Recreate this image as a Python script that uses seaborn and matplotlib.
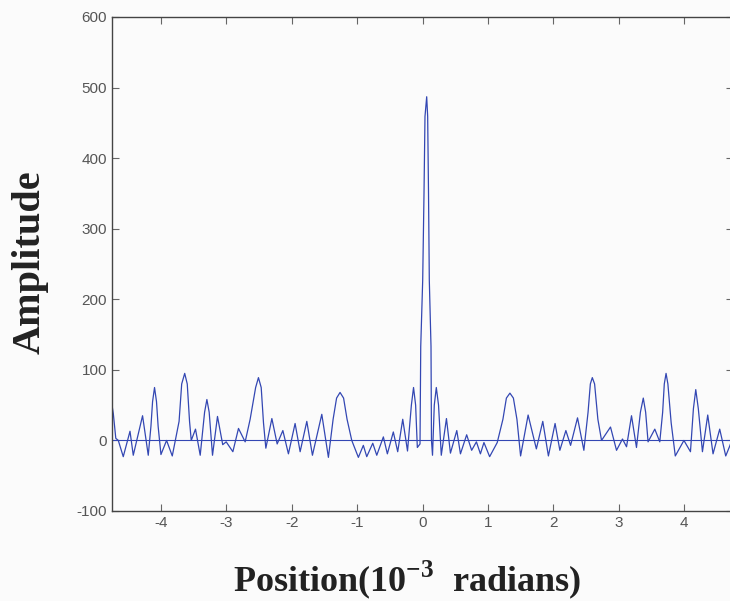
import matplotlib
matplotlib.use("Agg")
import matplotlib.pyplot as plt
import seaborn as sns

# position in 1e-3 radians, amplitude
position = [
    -4.745, -4.725, -4.687, -4.649, -4.573, -4.470, -4.420, -4.278, -4.191, -4.150,
    -4.125, -4.095, -4.065, -4.040, -3.997, -3.911, -3.824, -3.720, -3.680, -3.634,
    -3.595, -3.560, -3.534, -3.469, -3.397, -3.330, -3.295, -3.260, -3.209, -3.133,
    -3.053, -3.000, -2.898, -2.812, -2.710, -2.634, -2.550, -2.507, -2.465, -2.430,
    -2.394, -2.302, -2.221, -2.134, -2.049, -1.947, -1.870, -1.768, -1.682, -1.539,
    -1.438, -1.366, -1.313, -1.260, -1.206, -1.153, -1.081, -0.980, -0.904, -0.852,
    -0.760, -0.699, -0.598, -0.537, -0.446, -0.379, -0.302, -0.229, -0.170, -0.137,
    -0.105, -0.079, -0.038, -0.027, 0.003, 0.023, 0.038, 0.064, 0.079, 0.092,
    0.104, 0.130, 0.137, 0.153, 0.180, 0.211, 0.245, 0.287, 0.366, 0.427,
    0.524, 0.580, 0.675, 0.751, 0.824, 0.885, 0.939, 1.026, 1.142, 1.229,
    1.282, 1.336, 1.389, 1.443, 1.499, 1.614, 1.740, 1.838, 1.924, 2.026,
    2.099, 2.191, 2.263, 2.369, 2.466, 2.530, 2.565, 2.595, 2.630, 2.680,
    2.736, 2.873, 2.965, 3.056, 3.118, 3.194, 3.270, 3.330, 3.374, 3.410,
    3.447, 3.550, 3.626, 3.670, 3.695, 3.722, 3.750, 3.800, 3.863, 3.995,
    4.095, 4.140, 4.176, 4.215, 4.278, 4.359, 4.440, 4.542, 4.634, 4.695,
    4.745,
]
amplitude = [
    50, 38, 3, 0, -23, 13, -21, 35, -21, 20,
    55, 75, 55, 20, -20, 0, -22, 27, 80, 95,
    80, 27, 0, 16, -21, 40, 58, 40, -21, 34,
    -6, -2, -16, 17, -2, 30, 75, 89, 75, 25,
    -11, 31, -5, 14, -19, 24, -16, 27, -21, 37,
    -24, 30, 60, 68, 60, 30, 0, -24, -7, -23,
    -4, -21, 5, -19, 12, -16, 30, -15, 50, 75,
    50, -10, -5, 133, 227, 350, 459, 487, 459, 350,
    227, 133, 0, -21, 50, 75, 50, -21, 31, -18,
    14, -19, 8, -14, -2, -19, -3, -23, -3, 30,
    60, 67, 60, 30, -22, 36, -12, 27, -22, 24,
    -14, 14, -7, 32, -14, 40, 80, 89, 80, 30,
    0, 19, -14, 2, -9, 35, -10, 40, 60, 40,
    -2, 16, -2, 40, 80, 95, 80, 25, -22, 0,
    -16, 45, 72, 45, -16, 36, -19, 16, -22, -8,
    5,
]
x_ticks = [-4, -3, -2, -1, 0, 1, 2, 3, 4]
y_ticks = [-100, 0, 100, 200, 300, 400, 500, 600]

sns.set_style("ticks")
plt.rcParams["axes.unicode_minus"] = False
plt.rcParams["mathtext.fontset"] = "custom"
plt.rcParams["mathtext.rm"] = "Liberation Serif:bold"
plt.rcParams["mathtext.bf"] = "Liberation Serif:bold"

line_color = "#3347b3"

fig = plt.figure(figsize=(7.3, 6.01), dpi=100, facecolor="#fbfbfb")
ax = fig.add_axes([112 / 730, 90 / 601, 621 / 730, 494 / 601])
ax.set_facecolor("#fbfbfb")

sns.lineplot(x=position, y=amplitude, ax=ax, color=line_color,
             linewidth=0.9, estimator=None, sort=False)
ax.axhline(0, color=line_color, linewidth=0.8)

ax.set_xlim(-4.745, 4.745)
ax.set_ylim(-100, 600)
ax.set_xticks(x_ticks)
ax.set_yticks(y_ticks)
ax.tick_params(direction="in", length=5, width=0.8, colors="#666666",
               labelsize=11, top=True, right=True, labelcolor="#555555")
for side in ["left", "bottom", "top", "right"]:
    ax.spines[side].set_color("#444444")
    ax.spines[side].set_linewidth(1.0)

for lab in ax.get_xticklabels() + ax.get_yticklabels():
    lab.set_family(["Liberation Sans", "DejaVu Sans"])

fig.text(30 / 730, 1 - 262 / 601, "Amplitude", rotation=90,
         ha="center", va="center", fontsize=29, fontweight="bold",
         family=["Liberation Serif", "DejaVu Serif"], color="#222222")
fig.text(407 / 730, 1 - 580 / 601, r"Position(10$^{\mathbf{-3}}$  radians)",
         ha="center", va="center", fontsize=26, fontweight="bold",
         family=["Liberation Serif", "DejaVu Serif"], color="#222222")

fig.savefig("out.png", dpi=100, facecolor=fig.get_facecolor())
